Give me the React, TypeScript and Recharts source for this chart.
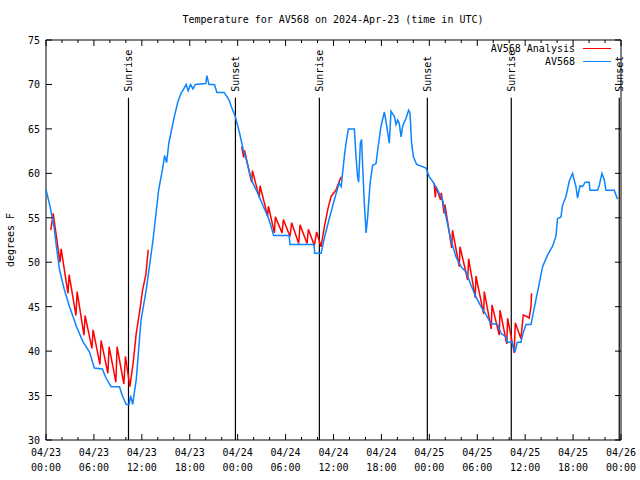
import React from 'react';
import { LineChart, Line, XAxis, YAxis, ReferenceLine, ReferenceArea } from 'recharts';

const TITLE = 'Temperature for AV568 on 2024-Apr-23 (time in UTC)';
const FONT = '"DejaVu Sans Mono", monospace';

// hours since 04/23 00:00 UTC, degrees F
const station: [number, number][] = [
  [0, 58.2], [0.5, 56.3], [1.0, 54.0], [1.3, 51.8], [1.7, 49.1], [2.3, 46.9], [2.95, 45.0], [3.8, 42.8],
  [4.6, 41.1], [5.45, 39.9], [6.05, 38.1], [7.05, 38.0], [7.5, 37.0], [8.15, 36.0], [9.2, 36.0], [9.55, 35.0],
  [10.05, 34.0], [10.4, 34.0], [10.6, 35.0], [10.85, 34.0], [11.3, 36.8], [11.9, 43.5], [12.55, 46.9],
  [13.4, 52.5], [14.1, 58.1], [14.6, 60.5], [14.85, 62.0], [15.1, 61.2], [15.4, 63.5], [15.75, 65.0],
  [16.1, 66.5], [16.5, 68.0], [16.9, 69.0], [17.25, 69.5], [17.55, 70.0], [17.8, 69.3], [18.1, 70.0],
  [18.4, 69.5], [18.7, 70.0], [20.0, 70.1], [20.15, 71.0], [20.4, 70.0], [21.1, 70.0], [21.4, 69.1],
  [22.3, 69.1], [22.9, 68.3], [23.3, 67.3], [23.7, 66.4], [24.25, 64.5], [24.7, 62.6], [25.1, 61.5],
  [25.5, 60.0], [25.9, 58.9], [26.5, 57.8], [27.2, 56.3], [27.8, 55.1], [28.2, 54.0], [28.5, 53.0],
  [30.45, 53.0], [30.55, 52.0], [33.55, 52.0], [33.65, 51.0], [34.45, 51.0], [34.9, 52.9], [35.5, 55.0],
  [36.1, 57.0], [36.7, 58.9], [36.96, 58.5], [37.36, 61.9], [37.57, 63.4], [37.86, 65.0], [38.61, 65.0],
  [38.82, 61.9], [39.02, 59.6], [39.15, 59.0], [39.36, 63.4], [39.52, 63.8], [39.65, 60.8], [39.86, 56.6],
  [40.08, 53.3], [40.28, 55.1], [40.58, 58.9], [40.9, 60.9], [41.33, 61.1], [41.53, 62.6], [41.95, 65.3],
  [42.37, 66.9], [42.58, 65.8], [42.99, 63.4], [43.2, 67.0], [43.62, 66.4], [43.83, 65.5], [44.03, 66.0],
  [44.24, 65.6], [44.46, 64.1], [44.66, 65.3], [45.08, 66.2], [45.41, 67.1], [45.58, 66.8], [45.78, 63.4],
  [46.0, 61.9], [46.41, 61.0], [47.58, 60.6], [48.0, 59.6], [48.41, 59.1], [49.04, 58.1], [49.66, 57.0],
  [50.09, 55.1], [50.71, 52.5], [51.34, 50.6], [51.97, 49.5], [52.59, 48.9], [53.22, 47.4], [53.84, 46.1],
  [54.47, 45.0], [55.09, 44.1], [55.72, 43.1], [56.55, 43.0], [56.97, 42.0], [57.6, 41.6], [57.76, 41.0],
  [58.39, 41.0], [58.72, 39.9], [59.01, 41.0], [59.47, 41.0], [59.67, 41.8], [60.1, 43.0], [60.73, 43.0],
  [60.93, 43.9], [61.35, 45.8], [61.76, 47.6], [62.18, 49.5], [62.8, 50.8], [63.43, 51.8], [63.85, 52.9],
  [64.05, 54.9], [64.48, 55.1], [64.68, 56.4], [65.11, 57.4], [65.52, 59.1], [65.93, 60.0], [66.36, 58.5],
  [66.56, 57.2], [66.86, 58.6], [67.18, 58.5], [67.52, 59.0], [68.02, 59.0], [68.11, 58.1], [69.06, 58.1],
  [69.27, 58.6], [69.61, 60.0], [69.9, 59.3], [70.11, 58.1], [71.15, 58.1], [71.36, 57.6], [71.56, 57.1],
];

// analysis only runs through the nights
const analysisNight1: [number, number][] = [
  [0.6, 53.6], [0.9, 55.5], [1.75, 50.0], [1.9, 51.5], [2.75, 46.5], [2.9, 48.6], [3.75, 44.0], [3.9, 46.7],
  [4.75, 41.8], [4.9, 44.0], [5.75, 40.3], [5.9, 42.4], [6.75, 38.5], [6.9, 41.2], [7.75, 37.5], [7.9, 40.5],
  [8.75, 36.5], [8.9, 40.5], [9.75, 36.3], [9.95, 39.4], [10.5, 36.0], [10.9, 38.6], [11.3, 42.0],
  [11.7, 44.3], [12.1, 46.9], [12.5, 48.6], [12.8, 51.4],
];
const analysisNight2: [number, number][] = [
  [24.5, 63.0], [24.75, 61.8], [24.85, 62.6], [25.75, 59.0], [25.85, 60.3], [26.7, 57.3], [26.8, 58.6],
  [27.75, 55.2], [27.85, 56.3], [28.6, 53.3], [28.72, 55.1], [29.56, 53.3], [29.72, 54.8], [30.56, 52.9],
  [30.76, 54.45], [31.64, 52.1], [31.81, 54.2], [32.69, 52.1], [32.85, 53.7], [33.6, 51.9], [33.89, 53.4],
  [34.44, 51.75], [34.86, 54.0], [35.3, 56.0], [35.7, 57.4], [36.3, 58.1], [36.73, 59.1], [36.95, 59.6],
];
const analysisNight3: [number, number][] = [
  [48.6, 58.9], [48.75, 57.3], [48.85, 58.5], [49.4, 57.0], [49.5, 57.8], [49.85, 55.5], [49.95, 56.5],
  [50.8, 51.6], [50.9, 53.6], [51.75, 49.5], [51.84, 51.75], [52.8, 48.0], [52.92, 50.4], [53.75, 46.0],
  [53.84, 48.45], [54.8, 44.2], [54.88, 46.7], [55.75, 42.5], [55.85, 45.2], [56.75, 41.8], [56.85, 44.6],
  [57.7, 40.8], [57.8, 43.7], [58.63, 39.8], [58.76, 43.2], [59.47, 41.4], [59.76, 44.06], [60.2, 43.9],
  [60.5, 43.7], [60.73, 45.0], [60.8, 46.5],
];

const sunEvents = [
  { h: 10.33, label: 'Sunrise' },
  { h: 23.72, label: 'Sunset' },
  { h: 34.23, label: 'Sunrise' },
  { h: 47.75, label: 'Sunset' },
  { h: 58.26, label: 'Sunrise' },
  { h: 71.78, label: 'Sunset' },
];

const xTicks = [0, 2, 4, 6, 8, 10, 12, 14, 16, 18, 20, 22, 24, 26, 28, 30, 32, 34, 36, 38, 40, 42, 44, 46, 48,
  50, 52, 54, 56, 58, 60, 62, 64, 66, 68, 70, 72];
const yTicks = [30, 35, 40, 45, 50, 55, 60, 65, 70, 75];

const SERIES = [
  { name: 'AV568 Analysis', color: '#ff0000' },
  { name: 'AV568', color: '#0a84ff' },
];

const PLOT = { left: 46, top: 40, right: 621, bottom: 440 };

const toRows = (pts: [number, number][]) => pts.map(([h, t]) => ({ h, t }));

const pad = (n: number) => String(n).padStart(2, '0');

const XTick = (props: any) => {
  const { x, payload } = props;
  const h = payload.value as number;
  const major = h % 6 === 0;
  const len = major ? 6 : 3;
  return (
    <g>
      <line x1={x} y1={PLOT.bottom} x2={x} y2={PLOT.bottom - len} stroke="#000" />
      <line x1={x} y1={PLOT.top} x2={x} y2={PLOT.top + len} stroke="#000" />
      {major && (
        <text textAnchor="middle" fontFamily={FONT} fontSize={10} fill="#000">
          <tspan x={x} y={456}>{`04/${23 + Math.floor(h / 24)}`}</tspan>
          <tspan x={x} y={471}>{`${pad(h % 24)}:00`}</tspan>
        </text>
      )}
    </g>
  );
};

const YTick = (props: any) => {
  const { y, payload } = props;
  return (
    <g>
      <line x1={PLOT.left} y1={y} x2={PLOT.left + 6} y2={y} stroke="#000" />
      <line x1={PLOT.right} y1={y} x2={PLOT.right - 6} y2={y} stroke="#000" />
      <text x={40} y={y + 4} textAnchor="end" fontFamily={FONT} fontSize={10} fill="#000">
        {payload.value}
      </text>
    </g>
  );
};

const SunLabel = (text: string) => (props: any) => {
  const { viewBox } = props;
  const x = viewBox.x;
  const y = viewBox.y;
  return (
    <text
      transform={`translate(${x + 4},${y - 6}) rotate(-90)`}
      fontFamily={FONT}
      fontSize={10}
      fill="#000"
    >
      {text}
    </text>
  );
};

const LegendBox = () => (
  <div
    style={{
      position: 'absolute', top: 42, right: 29,
      fontFamily: FONT, fontSize: 10, lineHeight: '13px', color: '#000',
    }}
  >
    {SERIES.map((s) => (
      <div key={s.name} style={{ display: 'flex', justifyContent: 'flex-end', alignItems: 'center' }}>
        <span>{s.name}</span>
        <span style={{ display: 'inline-block', width: 28, height: 0, borderTop: `1.5px solid ${s.color}`, marginLeft: 8 }} />
      </div>
    ))}
  </div>
);

export default function App() {
  return (
    <div style={{ position: 'fixed', left: 0, top: 0, width: 640, height: 480, background: '#fff' }}>
      <LineChart width={640} height={480} margin={{ top: 40, right: 19, bottom: 0, left: 0 }}>
        <XAxis
          type="number"
          dataKey="h"
          domain={[0, 72]}
          ticks={xTicks}
          interval={0}
          height={40}
          tick={<XTick />}
          tickLine={false}
          axisLine={false}
          allowDataOverflow
        />
        <YAxis
          type="number"
          domain={[30, 75]}
          ticks={yTicks}
          interval={0}
          width={46}
          tick={<YTick />}
          tickLine={false}
          axisLine={false}
          allowDataOverflow
        />
        <ReferenceArea x1={0} x2={72} y1={30} y2={75} fill="none" stroke="#000" strokeWidth={1} fillOpacity={0} />
        {sunEvents.map((s, i) => (
          <ReferenceLine
            key={i}
            segment={[{ x: s.h, y: 68.5 }, { x: s.h, y: 30 }]}
            stroke="#000"
            strokeWidth={1.2}
            label={SunLabel(s.label)}
          />
        ))}
        {[analysisNight1, analysisNight2, analysisNight3].map((night, i) => (
          <Line
            key={i}
            data={toRows(night)}
            dataKey="t"
            type="linear"
            stroke={SERIES[0].color}
            strokeWidth={1.5}
            dot={false}
            isAnimationActive={false}
          />
        ))}
        <Line
          data={toRows(station)}
          dataKey="t"
          type="linear"
          stroke={SERIES[1].color}
          strokeWidth={1.5}
          dot={false}
          isAnimationActive={false}
        />
      </LineChart>
      <LegendBox />
      <svg width={640} height={480} style={{ position: 'absolute', left: 0, top: 0, pointerEvents: 'none' }}>
        <text x={333} y={23} textAnchor="middle" fontFamily={FONT} fontSize={10} fill="#000">
          {TITLE}
        </text>
        <text transform="translate(14,240) rotate(-90)" textAnchor="middle" fontFamily={FONT} fontSize={10} fill="#000">
          degrees F
        </text>
      </svg>
    </div>
  );
}
